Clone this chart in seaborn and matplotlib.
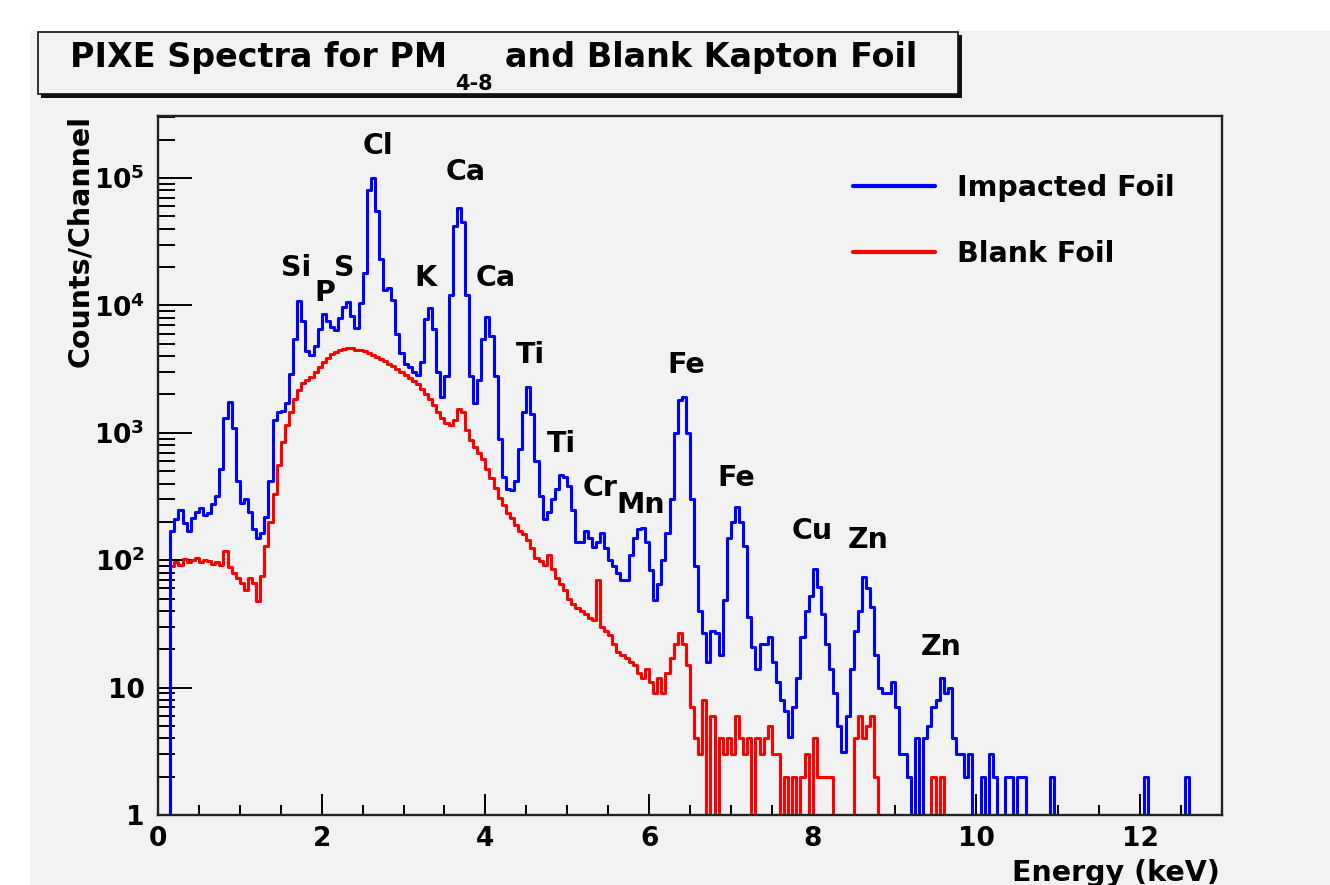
import numpy as np
import pandas as pd
import matplotlib
matplotlib.use("Agg")
import matplotlib.pyplot as plt
import seaborn as sns
from matplotlib.patches import Rectangle
from matplotlib.lines import Line2D
from matplotlib.ticker import MultipleLocator, LogLocator, FixedLocator, FixedFormatter, NullFormatter

# ---------------- data ----------------
BIN_START = 0.0      # keV, left edge of first channel group
BIN_WIDTH = 0.05     # keV per channel group

# Impacted foil counts per 0.05 keV group, 0..13 keV (20 groups per keV)
impacted_0 = [0, 0, 0, 170, 210, 250, 195, 170, 215, 240, 255, 225, 235, 275, 320, 520, 1300, 1750, 1100, 420]
impacted_1 = [280, 300, 240, 175, 150, 165, 220, 420, 1250, 1450, 1480, 1700, 2900, 5500, 10800, 7600, 4400, 4100, 4800, 6500]
impacted_2 = [8600, 7500, 6800, 6400, 8000, 9800, 10600, 8200, 6600, 10500, 18000, 80000, 100000, 55000, 23000, 13200, 13800, 11000, 6000, 4200]
impacted_3 = [3500, 3300, 3000, 2850, 3600, 7800, 9600, 6500, 3000, 1900, 2800, 12000, 42000, 58000, 45000, 12000, 2800, 1700, 2600, 5500]
impacted_4 = [8100, 5800, 2800, 900, 450, 360, 355, 420, 750, 1450, 2300, 1400, 600, 320, 210, 240, 300, 360, 470, 450]
impacted_5 = [380, 250, 140, 140, 170, 150, 128, 140, 163, 125, 100, 90, 80, 70, 70, 110, 150, 175, 180, 140]
impacted_6 = [84, 49, 65, 100, 163, 300, 1000, 1800, 1900, 1000, 300, 90, 40, 27, 16, 28, 27, 18, 49, 150]
impacted_7 = [200, 263, 200, 130, 36, 21, 14, 22, 22, 25, 16, 11, 8, 6.6, 4.1, 7, 12, 25, 40, 52]
impacted_8 = [85, 62, 38, 22, 14, 9, 5, 3.1, 6, 14, 28, 40, 74, 60, 43, 18, 10, 9, 9, 11]
impacted_9 = [7, 3, 3, 2, 0, 4, 0, 4, 5, 7, 8, 12, 9, 10, 4, 3, 3, 2, 3, 0]
impacted_10 = [0, 2, 0, 3, 2, 0, 0, 2, 2, 0, 2, 2, 0, 0, 0, 0, 0, 0, 2, 0]
impacted_11 = [0, 0, 0, 1, 0, 0, 0, 0, 0, 0, 0, 0, 0, 0, 0, 0, 0, 0, 0, 0]
impacted_12 = [0, 2, 0, 0, 0, 0, 0, 0, 0, 0, 0, 2, 0, 0, 0, 0, 0, 0, 0, 0]

# Blank Kapton foil counts per 0.05 keV group
blank_0 = [0, 0, 0, 90, 96, 92, 102, 97, 100, 104, 96, 101, 98, 93, 97, 92, 118, 88, 80, 72]
blank_1 = [66, 58, 72, 66, 48, 75, 130, 200, 330, 560, 850, 1150, 1450, 1850, 2150, 2450, 2600, 2750, 3000, 3300]
blank_2 = [3600, 3900, 4150, 4300, 4450, 4550, 4600, 4600, 4500, 4450, 4350, 4250, 4100, 3950, 3800, 3650, 3500, 3350, 3150, 3000]
blank_3 = [2850, 2700, 2550, 2400, 2200, 2000, 1850, 1650, 1450, 1300, 1200, 1150, 1250, 1550, 1450, 1050, 880, 780, 700, 620]
blank_4 = [520, 440, 370, 310, 270, 235, 215, 190, 170, 160, 145, 125, 105, 98, 92, 110, 85, 72, 65, 58]
blank_5 = [50, 45, 42, 40, 38, 35, 34, 70, 30, 28, 26, 22, 19, 18, 17, 16, 15, 13, 12, 14]
blank_6 = [11, 9, 12, 9, 13, 17, 22, 27, 22, 15, 7, 4, 3, 8, 0, 6, 0, 4, 3, 4]
blank_7 = [3, 6, 4, 3, 4, 0, 4, 3, 4, 5, 3, 3, 0, 2, 0, 2, 0, 2, 3, 0]
blank_8 = [4, 2, 2, 2, 2, 0, 0, 0, 0, 0, 4, 6, 4, 5, 6, 2, 0, 0, 0, 0]
blank_9 = [0, 0, 0, 0, 0, 0, 0, 0, 0, 2, 0, 2, 0, 0, 0, 0, 0, 0, 0, 0]
blank_10 = [0] * 20
blank_11 = [0] * 20
blank_12 = [0] * 20

series_names = ["Impacted Foil", "Blank Foil"]
series_colors = ["#0000ff", "#ff0000"]

peak_labels = ["Cl", "Ca", "Si", "P", "S", "K", "Ca", "Ti", "Ti", "Cr", "Mn", "Fe", "Fe", "Cu", "Zn", "Zn"]
peak_label_energy = [2.69, 3.76, 1.69, 2.04, 2.28, 3.27, 4.13, 4.55, 4.93, 5.40, 5.90, 6.45, 7.06, 7.99, 8.68, 9.57]
peak_label_counts = [1.54e5, 9.6e4, 1.70e4, 1.08e4, 1.70e4, 1.42e4, 1.42e4, 3530, 707, 319, 235, 2950, 382, 147, 125, 18]

y_tick_values = [1, 10, 100, 1000, 1e4, 1e5]
y_tick_labels = ["1", "10", r"$\mathbf{10^{2}}$", r"$\mathbf{10^{3}}$", r"$\mathbf{10^{4}}$", r"$\mathbf{10^{5}}$"]
x_tick_values = [0, 2, 4, 6, 8, 10, 12]
x_tick_labels = ["0", "2", "4", "6", "8", "10", "12"]

title_main = "PIXE Spectra for PM"
title_sub = "4-8"
title_rest = "and Blank Kapton Foil"
x_label = "Energy (keV)"
y_label = "Counts/Channel"

# ---------------- build table ----------------
impacted = (impacted_0 + impacted_1 + impacted_2 + impacted_3 + impacted_4 + impacted_5 + impacted_6
            + impacted_7 + impacted_8 + impacted_9 + impacted_10 + impacted_11 + impacted_12)
blank = (blank_0 + blank_1 + blank_2 + blank_3 + blank_4 + blank_5 + blank_6
         + blank_7 + blank_8 + blank_9 + blank_10 + blank_11 + blank_12)
n_bins = len(impacted)
edges = BIN_START + BIN_WIDTH * np.arange(n_bins + 1)

frames = []
for name, vals in zip(series_names, [impacted, blank]):
    v = np.asarray(vals, dtype=float)
    v = np.append(v, v[-1])               # close the last step
    v = np.where(v > 0, v, 0.1)           # empty channels drop below the frame (log axis)
    frames.append(pd.DataFrame({"energy": edges, "counts": v, "series": name}))
df = pd.concat(frames, ignore_index=True)

# ---------------- style ----------------
sns.set_style("ticks")
plt.rcParams["font.family"] = ["DejaVu Sans"]
plt.rcParams["font.weight"] = "bold"
plt.rcParams["mathtext.fontset"] = "dejavusans"
plt.rcParams["text.color"] = "black"
plt.rcParams["axes.labelcolor"] = "black"
plt.rcParams["xtick.color"] = "black"
plt.rcParams["ytick.color"] = "black"
plt.rcParams["xtick.labelcolor"] = "black"
plt.rcParams["ytick.labelcolor"] = "black"

W, H = 1330, 885
BG = "#f2f2f2"
fig = plt.figure(figsize=(W / 100, H / 100), dpi=100, facecolor="white")
fig.add_artist(Rectangle((30 / W, 0), 1 - 30 / W, (H - 31) / H, transform=fig.transFigure,
                         facecolor=BG, edgecolor="none", zorder=-10))

ax = fig.add_axes([158 / W, (H - 815) / H, (1222 - 158) / W, (815 - 116) / H])
ax.set_facecolor(BG)

# blank spectrum first, impacted spectrum drawn on top
draw_order = [series_names[1], series_names[0]]
draw_colors = [series_colors[1], series_colors[0]]
sns.lineplot(data=df, x="energy", y="counts", hue="series", hue_order=draw_order,
             palette=draw_colors, drawstyle="steps-post", estimator=None, sort=False,
             linewidth=2.2, legend=False, ax=ax)

ax.set_yscale("log")
ax.set_xlim(0, 13)
ax.set_ylim(1, 3.07e5)
ax.set_xlabel("")
ax.set_ylabel("")

ax.yaxis.set_major_locator(FixedLocator(y_tick_values))
ax.yaxis.set_major_formatter(FixedFormatter(y_tick_labels))
ax.yaxis.set_minor_locator(LogLocator(base=10, subs=np.arange(2, 10), numticks=20))
ax.yaxis.set_minor_formatter(NullFormatter())
ax.xaxis.set_major_locator(FixedLocator(x_tick_values))
ax.xaxis.set_major_formatter(FixedFormatter(x_tick_labels))
ax.xaxis.set_minor_locator(MultipleLocator(0.5))

ax.tick_params(axis="y", which="major", direction="in", length=24.5, width=1.4, pad=9.5,
               labelsize=19, color="black", labelcolor="black")
ax.tick_params(axis="y", which="minor", direction="in", length=12, width=1.4, color="black")
ax.tick_params(axis="x", which="major", direction="in", length=15, width=1.4, pad=8,
               labelsize=19, color="black", labelcolor="black")
ax.tick_params(axis="x", which="minor", direction="in", length=7.5, width=1.4, color="black")
for lab in ax.get_xticklabels() + ax.get_yticklabels():
    lab.set_fontweight("bold")
for sp in ax.spines.values():
    sp.set_visible(True)
    sp.set_linewidth(1.7)
    sp.set_color("#222222")
    sp.set_zorder(5)

# element labels
for s, e, c in zip(peak_labels, peak_label_energy, peak_label_counts):
    ax.text(e, c, s, ha="center", va="baseline", fontsize=20.5, fontweight="bold",
            color="black", zorder=6)

# legend
handles = [Line2D([], [], color=c, lw=3) for c in series_colors]
leg = ax.legend(handles, series_names, loc="upper left", bbox_to_anchor=(0.653, 0.917),
                frameon=False, borderpad=0, borderaxespad=0, handlelength=2.88,
                handletextpad=0.77, labelspacing=1.33, prop={"weight": "bold", "size": 20.5})
for t in leg.get_texts():
    t.set_color("black")

# axis titles
fig.text(1220 / W, 1 - 881 / H, x_label, ha="right", va="baseline", fontsize=20.5,
         fontweight="bold", color="black")
fig.text(88 / W, 1 - 115 / H, y_label, rotation=90, rotation_mode="anchor", ha="right",
         va="baseline", fontsize=20.5, fontweight="bold", color="black")

# title box with shadow
fig.add_artist(Rectangle((41 / W, 1 - 98 / H), (962 - 41) / W, (98 - 35) / H, transform=fig.transFigure,
                         facecolor="#111111", edgecolor="none", zorder=1))
fig.add_artist(Rectangle((38 / W, 1 - 94 / H), (958 - 38) / W, (94 - 32) / H, transform=fig.transFigure,
                         facecolor=BG, edgecolor="#111111", linewidth=1.2, zorder=2))
renderer = fig.canvas.get_renderer()
t1 = fig.text(70 / W, 1 - 67 / H, title_main, ha="left", va="baseline", fontsize=24,
              fontweight="bold", color="black", zorder=3)
x1 = t1.get_window_extent(renderer).x1
t2 = fig.text((x1 + 8) / W, 1 - 90 / H, title_sub, ha="left", va="baseline", fontsize=15,
              fontweight="bold", color="black", zorder=3)
x2 = t2.get_window_extent(renderer).x1
fig.text((x2 + 12) / W, 1 - 67 / H, title_rest, ha="left", va="baseline", fontsize=24,
         fontweight="bold", color="black", zorder=3)

fig.savefig("out.png", dpi=100, facecolor="white")
